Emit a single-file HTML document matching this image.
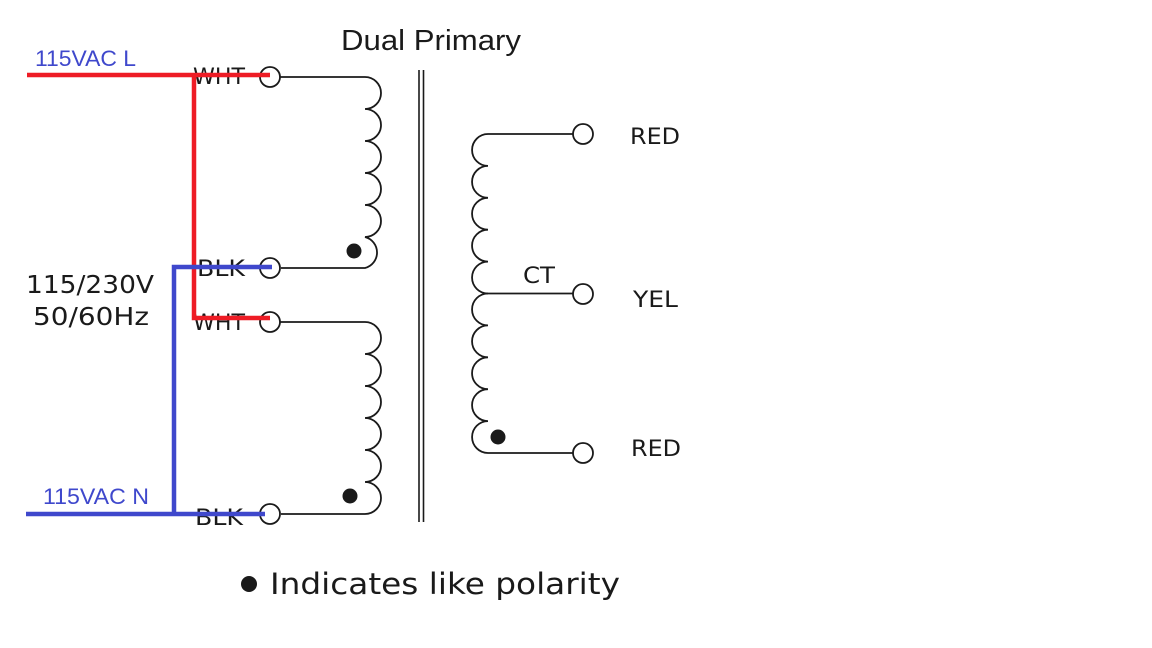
<!DOCTYPE html>
<html><head><meta charset="utf-8"><style>
html,body{margin:0;padding:0;background:#fff;}
svg{display:block;}
text{font-family:"DejaVu Sans","Liberation Sans",sans-serif;fill:#1a1a1a;}
</style></head><body>
<svg width="1152" height="648" viewBox="0 0 1152 648" xmlns="http://www.w3.org/2000/svg">
<rect width="1152" height="648" fill="#fff"/>
<text x="341" y="50" font-size="29" style="font-family:'Liberation Sans',sans-serif" textLength="180" lengthAdjust="spacingAndGlyphs">Dual Primary</text>
<!-- core -->
<line x1="419" y1="70" x2="419" y2="522" stroke="#1a1a1a" stroke-width="1.6"/>
<line x1="423.5" y1="70" x2="423.5" y2="522" stroke="#1a1a1a" stroke-width="1.6"/>
<g fill="none" stroke="#1a1a1a" stroke-width="1.8">
<path d="M280,77 H365 A16,16 0 0 1 365,109 A16,16 0 0 1 365,141 A16,16 0 0 1 365,173 A16,16 0 0 1 365,205 A16,16 0 0 1 365,237 A16,16 0 0 1 365,268 H281"/>
<path d="M280,322 H365 A16,16 0 0 1 365,354 A16,16 0 0 1 365,386 A16,16 0 0 1 365,418 A16,16 0 0 1 365,450 A16,16 0 0 1 365,482 A16,16 0 0 1 365,514 H281"/>
<path d="M573,134 H488 A15.95,15.95 0 0 0 488,165.9 A15.95,15.95 0 0 0 488,197.8 A15.95,15.95 0 0 0 488,229.7 A15.95,15.95 0 0 0 488,261.6 A15.95,15.95 0 0 0 488,293.5 A15.95,15.95 0 0 0 488,325.4 A15.95,15.95 0 0 0 488,357.3 A15.95,15.95 0 0 0 488,389.2 A15.95,15.95 0 0 0 488,421.1 A15.95,15.95 0 0 0 488,453 H573"/>
<line x1="486" y1="293.5" x2="573" y2="293.5"/>
<circle cx="270" cy="77" r="10" fill="#fff"/>
<circle cx="270" cy="268" r="10" fill="#fff"/>
<circle cx="270" cy="322" r="10" fill="#fff"/>
<circle cx="270" cy="514" r="10" fill="#fff"/>
<circle cx="583" cy="134" r="10" fill="#fff"/>
<circle cx="583" cy="294" r="10" fill="#fff"/>
<circle cx="583" cy="453" r="10" fill="#fff"/>
</g>
<circle cx="354" cy="251" r="7.5" fill="#1a1a1a"/>
<circle cx="350" cy="496" r="7.5" fill="#1a1a1a"/>
<circle cx="498" cy="437" r="7.5" fill="#1a1a1a"/>
<g lengthAdjust="spacingAndGlyphs">
<text x="193" y="84" font-size="22" textLength="52" lengthAdjust="spacingAndGlyphs">WHT</text>
<text x="197" y="276" font-size="22" textLength="48" lengthAdjust="spacingAndGlyphs">BLK</text>
<text x="193" y="330" font-size="22" textLength="52" lengthAdjust="spacingAndGlyphs">WHT</text>
<text x="195" y="525" font-size="22" textLength="48" lengthAdjust="spacingAndGlyphs">BLK</text>
<text x="630" y="144" font-size="22" textLength="50" lengthAdjust="spacingAndGlyphs">RED</text>
<text x="633" y="307" font-size="22" textLength="45" lengthAdjust="spacingAndGlyphs">YEL</text>
<text x="631" y="456" font-size="22" textLength="50" lengthAdjust="spacingAndGlyphs">RED</text>
<text x="523" y="283" font-size="22" textLength="32" lengthAdjust="spacingAndGlyphs">CT</text>
<text x="26" y="293" font-size="25" textLength="128" lengthAdjust="spacingAndGlyphs">115/230V</text>
<text x="33" y="325" font-size="25" textLength="116" lengthAdjust="spacingAndGlyphs">50/60Hz</text>
<text x="270" y="594" font-size="29" textLength="350" lengthAdjust="spacingAndGlyphs">Indicates like polarity</text>
</g>
<circle cx="249" cy="584" r="8" fill="#1a1a1a"/>
<g fill="none" stroke-width="4.5" stroke-linecap="butt">
<path d="M27,75 H270 M194,75 V318 H270" stroke="#ee1c25"/>
<path d="M26,514 H265 M174,514 V267 H272" stroke="#3f48cc"/>
</g>
<text x="35" y="66" font-size="22" style="font-family:'Liberation Sans',sans-serif;fill:#3f48cc" textLength="101" lengthAdjust="spacingAndGlyphs">115VAC L</text>
<text x="43" y="504" font-size="22" style="font-family:'Liberation Sans',sans-serif;fill:#3f48cc" textLength="106" lengthAdjust="spacingAndGlyphs">115VAC N</text>
</svg>
</body></html>
